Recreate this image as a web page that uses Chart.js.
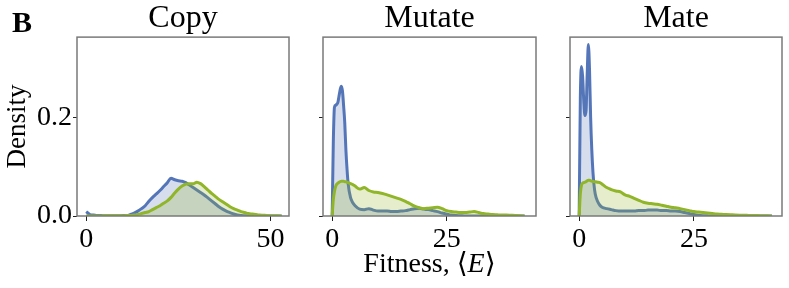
<!DOCTYPE html>
<html lang="en">
<head>
  <meta charset="UTF-8" />
  <title>Fitness density</title>
  <script src="https://cdn.jsdelivr.net/npm/chart.js"></script>
  <style>
    body {
      margin: 0;
      background: #fff;
    }
    .figure {
      position: relative;
      width: 789px;
      height: 288px;
    }
    .figure canvas {
      position: absolute;
      top: 0;
    }
  </style>
</head>
<body>
  <div class="figure">
    <canvas id="copyChart" width="305" height="288" style="left:0px"></canvas>
    <canvas id="mutateChart" width="240" height="288" style="left:310px"></canvas>
    <canvas id="mateChart" width="233" height="288" style="left:556px"></canvas>
  </div>

  <script>
    // ---- data ----
    const copyX = [0, 1, 2, 3, 4, 5, 6, 7, 8, 9, 10, 11, 12, 13, 14, 15, 16, 17, 18, 19, 20,
      21, 22, 23, 24, 25, 26, 27, 28, 29, 30, 31, 32, 33, 34, 35, 36, 37, 38, 39, 40,
      41, 42, 43, 44, 45, 46, 47, 48, 49, 50, 51, 52, 53];
    const copyBlue = [0.009, 0.003, 0.002, 0.001, 0.001, 0.0005, 0.0005, 0.0005, 0.0005, 0.0005, 0.001,
      0.001, 0.003, 0.006, 0.010, 0.015, 0.021, 0.030, 0.038, 0.045, 0.052,
      0.060, 0.068, 0.077, 0.074, 0.072, 0.071, 0.068, 0.063, 0.058, 0.053,
      0.048, 0.043, 0.037, 0.031, 0.025, 0.019, 0.014, 0.010, 0.007, 0.004,
      0.002, 0.001, 0.0005, 0, 0, 0, 0, 0, 0, 0, 0, 0, 0];
    const copyGreen = [0, 0, 0, 0, 0.0002, 0.0003, 0.0003, 0.0004, 0.0005, 0.0006, 0.0007,
      0.0008, 0.001, 0.002, 0.003, 0.005, 0.007, 0.009, 0.013, 0.017, 0.021,
      0.026, 0.031, 0.038, 0.047, 0.055, 0.061, 0.065, 0.066, 0.066, 0.069,
      0.066, 0.060, 0.053, 0.046, 0.040, 0.034, 0.029, 0.024, 0.019, 0.015,
      0.012, 0.009, 0.007, 0.005, 0.004, 0.003, 0.002, 0.0015, 0.001, 0.0007, 0.0005, 0.0003, 0];

    const mutateX = [0, 0.25, 0.5, 0.75, 1, 1.25, 1.5, 1.75, 2, 2.25, 2.5, 2.75, 3, 3.25, 3.5, 4, 4.5, 5,
      6, 7, 8, 9, 10, 11, 12, 13, 14, 15, 16, 17, 18, 19, 20, 21, 22, 23, 24, 25,
      26, 27, 28, 29, 30, 31, 32, 33, 34, 35, 36, 37, 38, 39, 40, 41, 42];
    const mutateBlue = [0, 0.15, 0.222, 0.226, 0.228, 0.232, 0.245, 0.258, 0.265, 0.255, 0.225, 0.19, 0.135, 0.095, 0.065, 0.038, 0.027, 0.021,
      0.014, 0.013, 0.015, 0.012, 0.010, 0.010, 0.010, 0.009, 0.009, 0.010, 0.011, 0.013, 0.015, 0.016, 0.014, 0.013, 0.011, 0.009, 0.006, 0.004,
      0.002, 0.001, 0.0005, 0, 0, 0, 0, 0, 0, 0, 0, 0, 0, 0, 0, 0, 0];
    const mutateGreen = [0, 0.033, 0.05, 0.06, 0.065, 0.067, 0.069, 0.070, 0.071, 0.071, 0.071, 0.070, 0.070, 0.069, 0.068, 0.066, 0.064, 0.061,
      0.055, 0.058, 0.052, 0.049, 0.048, 0.046, 0.043, 0.040, 0.037, 0.034, 0.030, 0.025, 0.020, 0.017, 0.015, 0.016, 0.017, 0.018, 0.015, 0.011,
      0.009, 0.008, 0.007, 0.007, 0.008, 0.009, 0.007, 0.005, 0.004, 0.003, 0.0025, 0.002, 0.002, 0.0015, 0.001, 0.0007, 0];

    const mateX = mutateX;
    const mateBlue = [0, 0.24, 0.305, 0.285, 0.235, 0.205, 0.215, 0.29, 0.35, 0.30, 0.20, 0.135, 0.09, 0.062, 0.045, 0.030, 0.022, 0.018,
      0.015, 0.013, 0.011, 0.010, 0.010, 0.010, 0.010, 0.011, 0.011, 0.012, 0.012, 0.012, 0.011, 0.011, 0.010, 0.010, 0.009, 0.007, 0.005, 0.003,
      0.0015, 0.0007, 0.0003, 0, 0, 0, 0, 0, 0, 0, 0, 0, 0, 0, 0, 0, 0];
    const mateGreen = [0, 0.045, 0.063, 0.067, 0.068, 0.069, 0.070, 0.072, 0.073, 0.073, 0.072, 0.071, 0.071, 0.070, 0.070, 0.069, 0.068, 0.065,
      0.058, 0.054, 0.051, 0.049, 0.043, 0.040, 0.036, 0.032, 0.028, 0.026, 0.025, 0.024, 0.022, 0.020, 0.018, 0.017, 0.015, 0.013, 0.011, 0.009,
      0.008, 0.007, 0.006, 0.005, 0.004, 0.0035, 0.003, 0.0025, 0.002, 0.0017, 0.0015, 0.0012, 0.001, 0.0008, 0.0005, 0.0003, 0];

    const copyTicks = [0, 50];
    const fitTicks = [0, 25];
    const densityTicks = [0, 0.2];

    // ---- styling ----
    const SERIF = "'Liberation Serif', 'DejaVu Serif', serif";
    const BLUE = 'rgb(84, 118, 184)';
    const BLUE_FILL = 'rgba(84, 118, 184, 0.24)';
    const GREEN = 'rgb(145, 181, 40)';
    const GREEN_FILL = 'rgba(145, 181, 40, 0.24)';

    // box around each plot area
    const frame = {
      id: 'frame',
      afterDatasetsDraw(chart) {
        const a = chart.chartArea;
        const c = chart.ctx;
        c.save();
        c.strokeStyle = '#7a7a7a';
        c.lineWidth = 1.5;
        c.strokeRect(a.left, a.top, a.right - a.left, a.bottom - a.top);
        c.restore();
      }
    };

    function pts(xs, ys) {
      return xs.map((x, i) => ({ x: x, y: ys[i] }));
    }

    function makePanel(id, cfg) {
      const ctx = document.getElementById(id).getContext('2d');
      return new Chart(ctx, {
        type: 'line',
        data: {
          datasets: [
            { data: pts(cfg.xs, cfg.green), borderColor: GREEN, backgroundColor: GREEN_FILL, fill: 'origin', order: 1 },
            { data: pts(cfg.xs, cfg.blue), borderColor: BLUE, backgroundColor: BLUE_FILL, fill: 'origin', order: 2 }
          ]
        },
        options: {
          responsive: false,
          animation: false,
          layout: { padding: { left: 0, right: cfg.padRight, top: 0, bottom: 0 } },
          elements: {
            point: { radius: 0 },
            line: { borderWidth: 3, cubicInterpolationMode: 'monotone', borderJoinStyle: 'round' }
          },
          plugins: {
            legend: { display: false },
            tooltip: { enabled: false },
            title: {
              display: true,
              text: cfg.title,
              fullSize: false,
              color: '#000',
              font: { family: SERIF, size: 32, weight: 'normal', lineHeight: 1.16 },
              padding: { top: 0, bottom: 0 }
            }
          },
          scales: {
            x: {
              type: 'linear',
              min: cfg.xmin,
              max: cfg.xmax,
              afterBuildTicks: s => { s.ticks = cfg.xticks.map(v => ({ value: v })); },
              afterFit: s => { s.height = 72; },
              border: { display: false },
              grid: { drawOnChartArea: false, drawTicks: true, tickLength: 5, color: '#222' },
              ticks: { color: '#000', font: { family: SERIF, size: 28 }, padding: 2, maxRotation: 0 }
            },
            y: {
              min: 0,
              max: 0.365,
              afterBuildTicks: s => { s.ticks = densityTicks.map(v => ({ value: v })); },
              afterFit: s => { s.width = cfg.yWidth; },
              border: { display: false },
              grid: { drawOnChartArea: false, drawTicks: true, tickLength: 4, color: '#222' },
              ticks: {
                color: '#000',
                font: { family: SERIF, size: 28 },
                padding: 1,
                callback: v => cfg.yLabels ? v.toFixed(1) : ''
              },
              title: {
                display: cfg.yLabels,
                text: 'Density',
                color: '#000',
                font: { family: SERIF, size: 27 },
                padding: { top: 2, bottom: 0 }
              }
            }
          }
        },
        plugins: [frame].concat(cfg.extra || [])
      });
    }

    // panel letter
    const panelLetter = {
      id: 'panelLetter',
      afterDraw(chart) {
        const c = chart.ctx;
        c.save();
        c.fillStyle = '#000';
        c.font = 'bold 30px ' + SERIF;
        c.textBaseline = 'alphabetic';
        c.fillText('B', 12, 31.5);
        c.restore();
      }
    };

    // shared x label with italic E
    const fitnessLabel = {
      id: 'fitnessLabel',
      afterDraw(chart) {
        const c = chart.ctx;
        const a = chart.chartArea;
        const parts = [
          { t: 'Fitness, \u27E8', f: '28px ' + SERIF },
          { t: 'E', f: 'italic 28px ' + SERIF },
          { t: '\u27E9', f: '28px ' + SERIF }
        ];
        c.save();
        c.fillStyle = '#000';
        c.textBaseline = 'alphabetic';
        let w = 0;
        parts.forEach(p => { c.font = p.f; p.w = c.measureText(p.t).width; w += p.w; });
        let x = (a.left + a.right) / 2 - w / 2;
        parts.forEach(p => { c.font = p.f; c.fillText(p.t, x, 272); x += p.w; });
        c.restore();
      }
    };

    makePanel('copyChart', {
      title: 'Copy', xs: copyX, blue: copyBlue, green: copyGreen,
      xmin: -2.5, xmax: 55, xticks: copyTicks,
      yWidth: 77, padRight: 16, yLabels: true, extra: [panelLetter]
    });
    makePanel('mutateChart', {
      title: 'Mutate', xs: mutateX, blue: mutateBlue, green: mutateGreen,
      xmin: -2, xmax: 44.5, xticks: fitTicks,
      yWidth: 13, padRight: 14, yLabels: false, extra: [fitnessLabel]
    });
    makePanel('mateChart', {
      title: 'Mate', xs: mateX, blue: mateBlue, green: mateGreen,
      xmin: -2, xmax: 44.2, xticks: fitTicks,
      yWidth: 14, padRight: 7, yLabels: false
    });
  </script>
</body>
</html>
